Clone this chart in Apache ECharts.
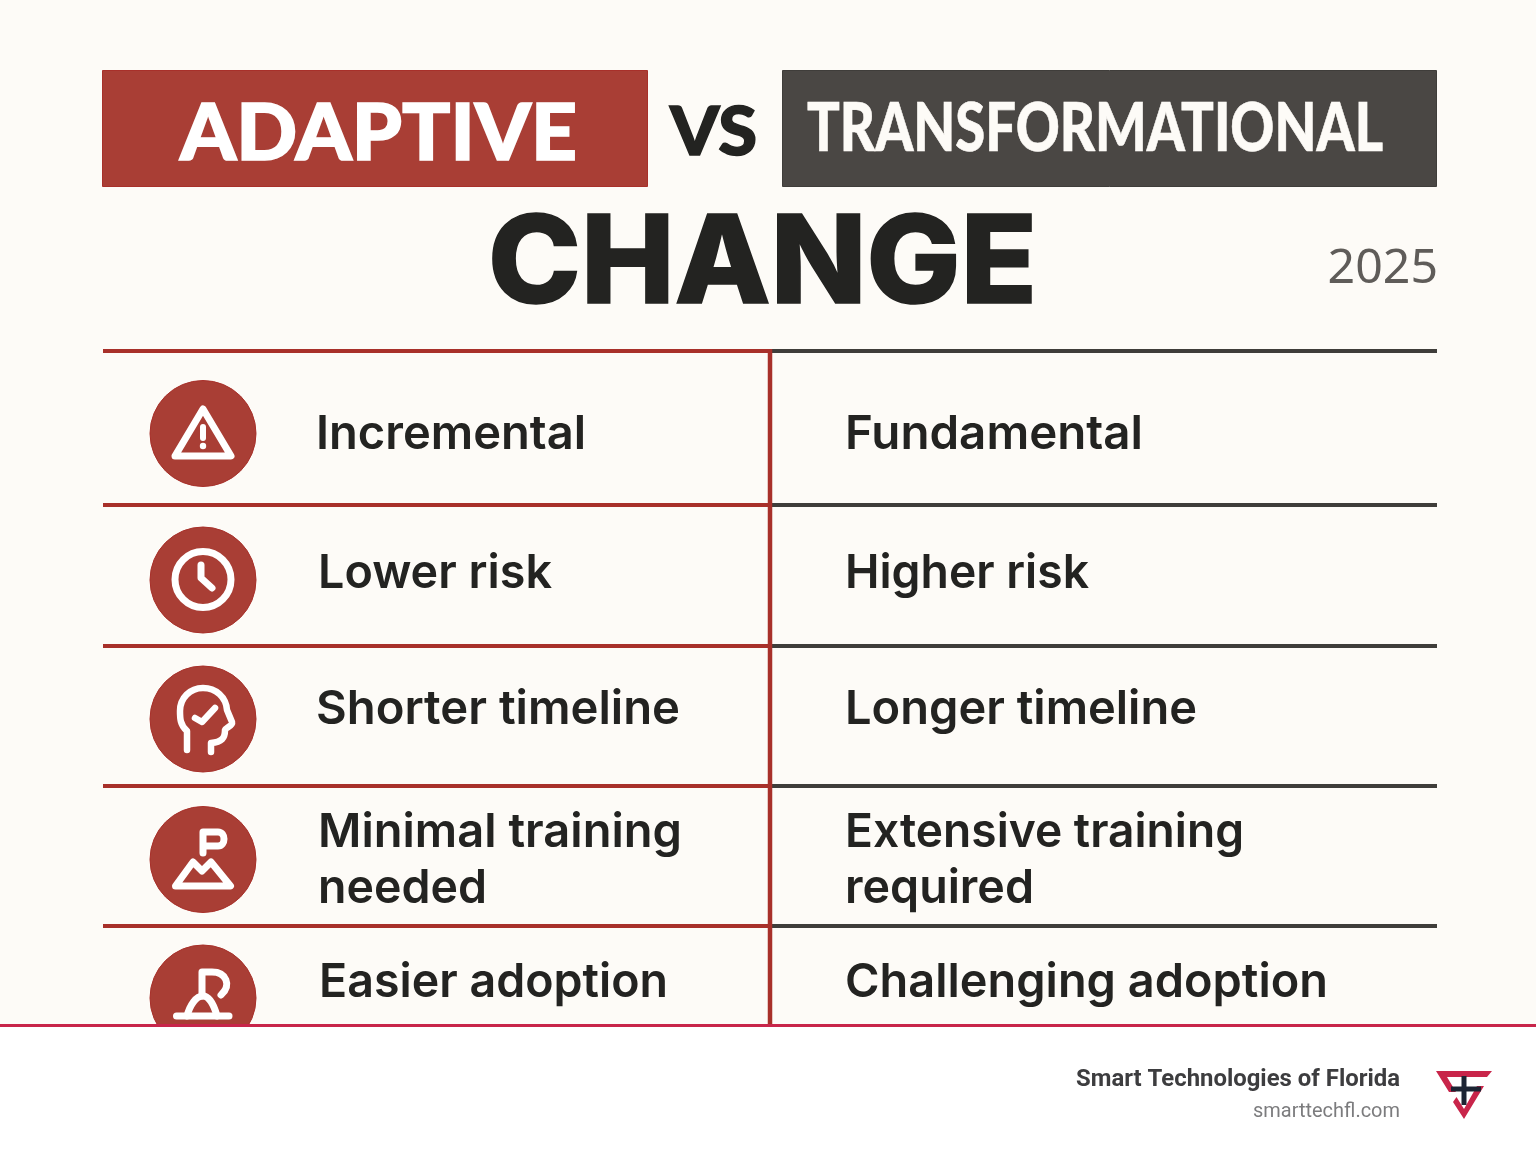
<!DOCTYPE html>
<html>
<head>
<meta charset="utf-8">
<title>Adaptive vs Transformational Change</title>
<script src="https://cdn.jsdelivr.net/npm/echarts@6/dist/echarts.min.js"></script>
<style>
  html, body { margin: 0; padding: 0; background: #fff; }
  #main { width: 1536px; height: 1154px; }
</style>
</head>
<body>
<div id="main"></div>
<script>
// texts of the table
var adaptiveLines = ['Incremental', 'Lower risk', 'Shorter timeline', 'Minimal training', 'needed', 'Easier adoption'];
var transformLines = ['Fundamental', 'Higher risk', 'Longer timeline', 'Extensive training', 'required', 'Challenging adoption'];
var headerLeft = 'ADAPTIVE';
var headerRight = 'TRANSFORMATIONAL';
var headerVs = 'VS';
var headerMain = 'CHANGE';
var yearLabel = '2025';
var footerName = 'Smart Technologies of Florida';
var footerSite = 'smarttechfl.com';

var RED = '#a93e35';
var RED_LINE = '#a8302a';
var DARK = '#4a4744';
var DARK_LINE = '#3f3d3a';
var INK = '#232321';
var BG = '#fdfbf7';
var CRIMSON = '#c8254a';
var NAVY = '#1c2433';

var measure = document.createElement('canvas').getContext('2d');
var els = [];
var shapeCount = 0;

// text squeezed or stretched so it runs exactly from x0 to x1
function fitText(text, x0, x1, cy, font, fill, z, thicken) {
    measure.font = font;
    var w = measure.measureText(text).width;
    els.push({
        type: 'text', x: x0, y: cy, scaleX: (x1 - x0) / w, z: z || 5,
        style: {
            text: text, font: font, fill: fill, textAlign: 'left', textVerticalAlign: 'middle', verticalAlign: 'middle',
            stroke: thicken ? fill : null, lineWidth: thicken || 0
        }
    });
}
function box(x, y, w, h, fill, stroke, z) {
    els.push({ type: 'rect', z: z || 1, shape: { x: x, y: y, width: w, height: h }, style: { fill: fill, stroke: stroke || null, lineWidth: stroke ? 1 : 0 } });
}
function line(x1, y1, x2, y2, color, width, z) {
    els.push({ type: 'line', z: z || 2, shape: { x1: x1, y1: y1, x2: x2, y2: y2 }, style: { stroke: color, lineWidth: width } });
}
function disc(cx, cy, r) {
    els.push({ type: 'circle', z: 3, shape: { cx: cx, cy: cy, r: r }, style: { fill: RED, stroke: RED_LINE, lineWidth: 1 } });
}
// graphic has no plain path type, so each svg path gets registered as its own shape
function pathEl(d, z, style) {
    var name = 'sketchPath' + (shapeCount++);
    echarts.graphic.registerShape(name, echarts.graphic.extendPath(d, {}));
    els.push({ type: name, z: z, style: style });
}
function icon(d, width) {
    pathEl(d, 4, { fill: 'none', stroke: '#fff', lineWidth: width, lineCap: 'round', lineJoin: 'round' });
}

// background
box(0, 0, 1536, 1026, BG, null, 0);

// header
box(102.5, 70.5, 545, 116, RED, RED_LINE);
box(782.5, 70.5, 654, 116, DARK, DARK_LINE);
fitText(headerLeft, 180, 577, 134.5, '900 79px Lato', '#fff', 5, 1.6);
fitText(headerRight, 807, 1383, 129, '900 67px Lato', '#fdfbf7', 5, 0.6);
fitText(headerVs, 670, 757, 134, '900 66px Lato', INK, 5, 1.4);
fitText(headerMain, 488, 1037, 266, '800 122px Inter', INK, 5, 1.6);
fitText(yearLabel, 1327.5, 1438, 270, '400 47px "Noto Sans"', '#5f5c59');

// table rules
var ruleY = [351, 505, 646, 786, 926];
ruleY.forEach(function (y) {
    line(103, y, 770, y, RED_LINE, 4);
    line(772, y, 1437, y, DARK_LINE, 4);
});
line(770, 349, 770, 1026, RED_LINE, 4.5, 3);

// table text
var textY = [435, 574, 710, 833, 889, 983];
var leftSpan = [[316, 586], [318, 552], [316, 680], [318, 682], [318, 487], [319, 668]];
var rightSpan = [[845, 1143], [845, 1089], [845, 1197], [845, 1244], [845, 1034], [845, 1328]];
var bodyFont = '600 47px Inter';
adaptiveLines.forEach(function (t, i) {
    fitText(t, leftSpan[i][0], leftSpan[i][1], textY[i], bodyFont, INK);
});
transformLines.forEach(function (t, i) {
    fitText(t, rightSpan[i][0], rightSpan[i][1], textY[i], bodyFont, INK);
});

// icons
disc(203, 433.5, 53);
icon('M203,409 L231,456 L175,456 Z', 7);
icon('M203,427 L203,438', 6);
els.push({ type: 'circle', z: 4, shape: { cx: 203, cy: 446, r: 3.2 }, style: { fill: '#fff' } });

disc(203, 580, 53);
els.push({ type: 'circle', z: 4, shape: { cx: 203, cy: 579.5, r: 28 }, style: { fill: 'none', stroke: '#fff', lineWidth: 7 } });
icon('M201,565 L201,578 L212,588', 7);

disc(203, 719, 53);
icon('M187,750 L187,731 C180,725 180,718 180,711 C180,698 190,688 203,688 C216,688 226,697 227,710 L232,722 C233,726 226,727 225,730 C225,738 222,742 211,743 L211,752', 6.5);
icon('M195,718 L202,722 L215,708', 6.5);

disc(203, 859.5, 53);
icon('M203,853 L203,832 L218,832 C226,832 226,846 218,846 L203,846', 7);
icon('M175.5,886 L193,862 L202,871 L211,862 L230.5,886 Z', 7);

disc(203, 998, 53);
icon('M176.5,1016 L229,1016', 7);
icon('M187,1016 C190,1005 196,996 203,996 C209,996 214,1005 217,1016', 7);
icon('M202,996 L202,972 L212,972 C226,972 232,985 221,995', 7);

// footer
box(0, 1026, 1536, 128, '#fff', null, 8);
line(0, 1025.5, 1536, 1025.5, CRIMSON, 3, 9);
fitText(footerName, 1076, 1400, 1080, '700 24px Roboto', '#3d3d3f', 10);
fitText(footerSite, 1253, 1400, 1112, '400 20px Roboto', '#7c7c7e', 10);

// logo
function logo(d, color) {
    pathEl(d, 10, { fill: color, stroke: null, lineWidth: 0 });
}
logo('M1436,1071 L1492,1071 L1487,1077 L1447,1077 L1456,1092 L1449,1092 Z', CRIMSON);
logo('M1484,1086 L1464,1119 L1453,1102 L1456.5,1097 L1464,1109 L1477,1086 Z', CRIMSON);
logo('M1451,1086.5 L1481,1086.5 L1481,1091.5 L1451,1091.5 Z', NAVY);
logo('M1461.5,1076 L1466.5,1076 L1466.5,1105 L1461.5,1105 Z', NAVY);

var myChart = echarts.init(document.getElementById('main'), null, { renderer: 'canvas' });
myChart.setOption({
    animation: false,
    backgroundColor: '#fff',
    graphic: { elements: els }
});
</script>
</body>
</html>
